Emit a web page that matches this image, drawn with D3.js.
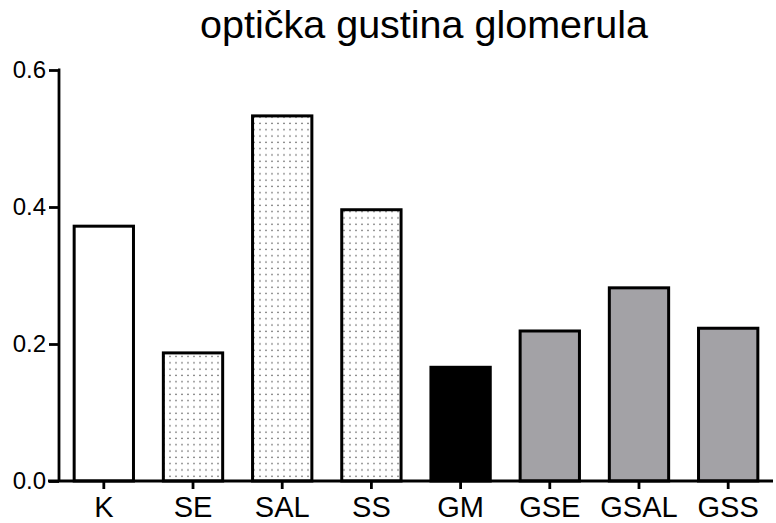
<!DOCTYPE html>
<html>
<head>
<meta charset="utf-8">
<script src="https://d3js.org/d3.v7.min.js"></script>
<style>
  body { margin: 0; background: #fff; font-family: "Liberation Sans", Arial, sans-serif; }
  svg { display: block; }
  .axis path, .axis line { stroke: #000; stroke-width: 2.8px; }
  .axis text { font-family: "Liberation Sans", Arial, sans-serif; fill: #000; }
</style>
</head>
<body>
<svg id="chart" width="776" height="523"></svg>
<script>
// data
const groups = ["K", "SE", "SAL", "SS", "GM", "GSE", "GSAL", "GSS"];
const values = [0.372, 0.187, 0.533, 0.396, 0.166, 0.219, 0.282, 0.223];
const fills  = ["white", "dots", "dots", "dots", "black", "gray", "gray", "gray"];
const yTicks = [0.0, 0.2, 0.4, 0.6];

const svg = d3.select("#chart");
const margin = { top: 70, right: 3, bottom: 42, left: 59 };
const width = 776 - margin.left - margin.right,
      height = 523 - margin.top - margin.bottom;

// dotted fill
const defs = svg.append("defs");
const pat = defs.append("pattern")
    .attr("id", "dots")
    .attr("patternUnits", "userSpaceOnUse")
    .attr("width", 6).attr("height", 6.3);
pat.append("rect").attr("width", 6).attr("height", 6.3).attr("fill", "#fff");
pat.append("circle").attr("cx", 3).attr("cy", 3).attr("r", 0.85).attr("fill", "#666");

const colorOf = { white: "#fff", dots: "url(#dots)", black: "#000", gray: "#a3a2a6" };

const g = svg.append("g").attr("transform", `translate(${margin.left},${margin.top})`);

const x = d3.scaleBand().domain(groups).range([0, width]).paddingInner(0.335).paddingOuter(0.17);
const y = d3.scaleLinear().domain([0, 0.6]).range([height, 0]);

// bars
g.selectAll(".bar")
  .data(groups)
  .enter().append("rect")
  .attr("class", "bar")
  .attr("x", d => x(d))
  .attr("y", (d, i) => y(values[i]))
  .attr("width", x.bandwidth())
  .attr("height", (d, i) => height - y(values[i]))
  .attr("fill", (d, i) => colorOf[fills[i]])
  .attr("stroke", "#000")
  .attr("stroke-width", 3);

// y axis
const yAxis = g.append("g").attr("class", "axis")
  .call(d3.axisLeft(y).tickValues(yTicks).tickFormat(d3.format(".1f")).tickSize(10).tickPadding(3));
yAxis.select(".domain").attr("d", `M0,${height}V0H-1`);
yAxis.selectAll("text").style("font-size", "24px");

// x axis
const xAxis = g.append("g").attr("class", "axis")
  .attr("transform", `translate(0,${height})`)
  .call(d3.axisBottom(x).tickSize(8).tickPadding(7));
xAxis.select(".domain").attr("d", `M-11,0H${width}`);
xAxis.selectAll("text").style("font-size", "29px");

// title
svg.append("text")
  .attr("x", 424).attr("y", 38)
  .attr("text-anchor", "middle")
  .style("font-size", "39.5px")
  .text("optička gustina glomerula");
</script>
</body>
</html>
